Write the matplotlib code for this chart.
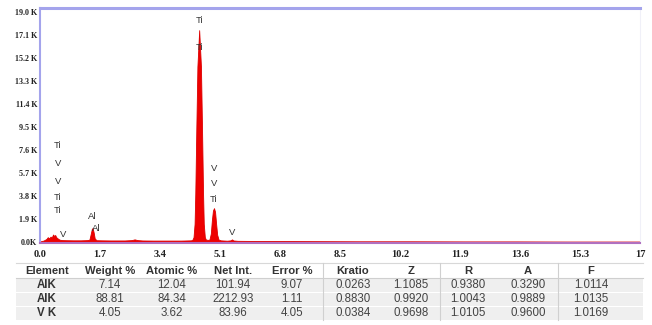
import matplotlib
matplotlib.use("Agg")
import matplotlib.pyplot as plt
from matplotlib.patches import Rectangle

# ---------------- data ----------------
energy_kev = [0.00, 0.10, 0.18, 0.22, 0.26, 0.30, 0.33, 0.37, 0.40, 0.43, 0.46, 0.50, 0.55, 0.62,
              0.75, 0.95, 1.15, 1.35, 1.40, 1.44, 1.47, 1.49, 1.52, 1.55, 1.60, 1.75, 2.00,
              2.40, 2.60, 2.68, 2.76, 2.90, 3.20, 3.60, 4.00, 4.28, 4.32, 4.35, 4.38, 4.40,
              4.43, 4.46, 4.485, 4.51, 4.535, 4.56, 4.59, 4.62, 4.64, 4.67, 4.70, 4.76,
              4.80, 4.84, 4.87, 4.90, 4.93, 4.96, 4.99, 5.02, 5.06, 5.12, 5.30, 5.40, 5.44,
              5.48, 5.60, 6.00, 7.00, 8.00, 9.00, 10.5, 12.0, 13.5, 15.0, 16.5, 17.0]
counts_k = [0.05, 0.12, 0.25, 0.40, 0.30, 0.45, 0.35, 0.62, 0.50, 0.58, 0.40, 0.30, 0.20, 0.16,
            0.15, 0.14, 0.14, 0.16, 0.20, 0.70, 1.10, 1.15, 0.80, 0.30, 0.15, 0.14, 0.13,
            0.13, 0.16, 0.22, 0.16, 0.13, 0.12, 0.12, 0.12, 0.14, 0.20, 0.40, 1.50, 4.00,
            9.50, 14.5, 16.0, 17.5, 16.0, 14.5, 9.50, 4.00, 1.50, 0.40, 0.20, 0.18,
            0.20, 0.70, 1.80, 2.60, 2.80, 2.50, 1.50, 0.60, 0.20, 0.14, 0.11, 0.14, 0.22,
            0.13, 0.10, 0.09, 0.08, 0.07, 0.06, 0.06, 0.05, 0.05, 0.04, 0.04, 0.04]

peak_labels = ["Ti", "Ti", "V", "V", "Ti", "V",
               "Ti", "V", "V", "Ti", "Ti", "V", "Al", "Al"]
peak_label_x = [4.51, 4.51, 4.93, 4.93, 4.93, 5.43,
                0.50, 0.50, 0.50, 0.50, 0.50, 0.65, 1.49, 1.58]
peak_label_y = [18.3, 16.1, 6.1, 4.8, 3.55, 0.8,
                8.0, 6.5, 5.0, 3.7, 2.6, 0.65, 2.1, 1.1]

x_ticks = [0.0, 1.7, 3.4, 5.1, 6.8, 8.5, 10.2, 11.9, 13.6, 15.3, 17.0]
x_tick_labels = ["0.0", "1.7", "3.4", "5.1", "6.8", "8.5", "10.2", "11.9", "13.6", "15.3", "17"]
y_ticks = [0.0, 1.9, 3.8, 5.7, 7.6, 9.5, 11.4, 13.3, 15.2, 17.1, 19.0]
y_tick_labels = ["0.0K", "1.9 K", "3.8 K", "5.7 K", "7.6 K", "9.5 K",
                 "11.4 K", "13.3 K", "15.2 K", "17.1 K", "19.0 K"]

table_header = ["Element", "Weight %", "Atomic %", "Net Int.", "Error %",
                "Kratio", "Z", "R", "A", "F"]
element = ["AlK", "AlK", "V K"]
weight_pct = ["7.14", "88.81", "4.05"]
atomic_pct = ["12.04", "84.34", "3.62"]
net_int = ["101.94", "2212.93", "83.96"]
error_pct = ["9.07", "1.11", "4.05"]
kratio = ["0.0263", "0.8830", "0.0384"]
z_col = ["1.1085", "0.9920", "0.9698"]
r_col = ["0.9380", "1.0043", "1.0105"]
a_col = ["0.3290", "0.9889", "0.9600"]
f_col = ["1.0114", "1.0135", "1.0169"]

# ---------------- figure ----------------
W, H = 652, 325
fig = plt.figure(figsize=(W / 100, H / 100), dpi=100)
fig.patch.set_facecolor("white")

ax = fig.add_axes([40 / W, 1 - 243 / H, (640 - 40) / W, (243 - 8) / H])
ax.fill_between(energy_kev, 0, counts_k, color="#ee0000", linewidth=0.6,
                edgecolor="#dd0000", zorder=2)
ax.set_xlim(0, 17.0)
ax.set_ylim(-0.08, 19.33)

for s in ["left", "top"]:
    ax.spines[s].set_color("#a4a4ec")
ax.spines["top"].set_linewidth(2.2)
ax.spines["left"].set_linewidth(1.5)
ax.spines["bottom"].set_color("#b070c0")
ax.spines["bottom"].set_linewidth(1.5)
ax.spines["right"].set_color("#f0f0f8")
ax.spines["right"].set_linewidth(0.8)

ax.set_xticks(x_ticks)
ax.set_xticklabels(x_tick_labels, fontsize=7.5, fontweight="bold",
                   family="Liberation Serif", color="#222222")
ax.set_yticks(y_ticks)
ax.set_yticklabels(y_tick_labels, fontsize=5.8, fontweight="bold",
                   family="Liberation Serif", color="#222222")
ax.tick_params(axis="both", length=0)
ax.tick_params(axis="x", pad=5)
ax.tick_params(axis="y", pad=2)

for lab, xx, yy in zip(peak_labels, peak_label_x, peak_label_y):
    ax.text(xx, yy, lab, fontsize=6.8, family="Liberation Sans", color="#333333",
            ha="center", va="center", zorder=5)

# ---------------- table ----------------
tab = fig.add_axes([0, 0, 1, 1])
tab.set_xlim(0, W)
tab.set_ylim(H, 0)
tab.axis("off")

col_edges = [16, 78, 142, 203, 263, 323, 384, 440, 498, 558, 626]
col_centers = [47, 110, 172, 233, 292, 353, 411, 468, 528, 591]
row_edges = [263, 278, 292, 306, 320]
columns = [element, weight_pct, atomic_pct, net_int, error_pct,
           kratio, z_col, r_col, a_col, f_col]

tab.add_patch(Rectangle((col_edges[0], row_edges[0]), 643 - col_edges[0],
                        row_edges[1] - row_edges[0], facecolor="white",
                        edgecolor="none"))
for r in range(3):
    y0 = row_edges[r + 1]
    tab.add_patch(Rectangle((col_edges[0], y0 + 0.5), 643 - col_edges[0],
                            row_edges[r + 2] - y0 - 1, facecolor="#efefef",
                            edgecolor="none"))
tab.plot([col_edges[0], 643], [row_edges[0], row_edges[0]], color="#d8d8d8", lw=0.8)
tab.plot([col_edges[0], 643], [row_edges[1], row_edges[1]], color="#cfcfcf", lw=0.8)
for xe in [323, 440, 558]:
    tab.plot([xe, xe], [row_edges[0], row_edges[-1]], color="#d0d0d0", lw=0.8)

ty_head = (row_edges[0] + row_edges[1]) / 2
for cx, h in zip(col_centers, table_header):
    tab.text(cx, ty_head, h, ha="center", va="center", fontsize=8.1,
             fontweight="bold", family="Liberation Sans", color="#333333")
for r in range(3):
    ty = (row_edges[r + 1] + row_edges[r + 2]) / 2
    for c, (cx, col) in enumerate(zip(col_centers, columns)):
        tab.text(cx, ty, col[r], ha="center", va="center", fontsize=8.3,
                 fontweight="bold" if c == 0 else "normal",
                 family="Liberation Sans", color="#333333" if c == 0 else "#444444")

fig.savefig("out.png", dpi=100)
